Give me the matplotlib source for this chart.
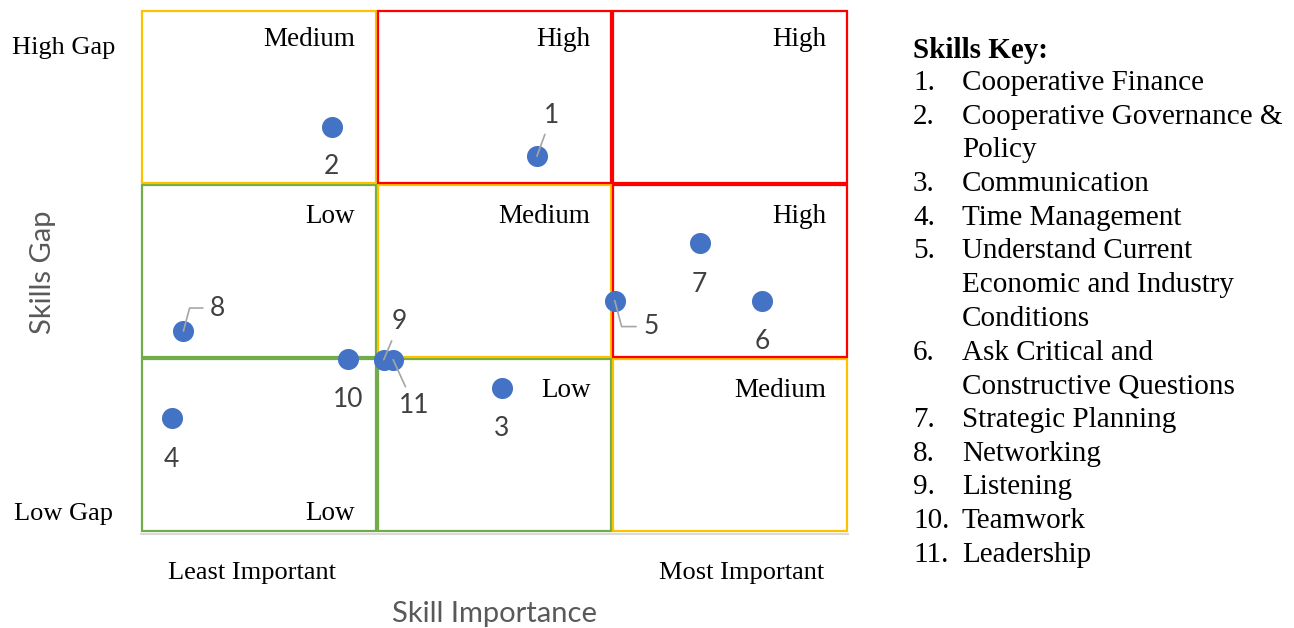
import matplotlib
matplotlib.use("Agg")
import matplotlib.pyplot as plt
from matplotlib.patches import Rectangle

# ---- data ----
skill_ids = ["1", "2", "3", "4", "5", "6", "7", "8", "9", "10", "11"]
importance = [1.68, 0.81, 1.53, 0.13, 2.01, 2.635, 2.37, 0.18, 1.03, 0.88, 1.07]
gap = [2.16, 2.33, 0.83, 0.655, 1.33, 1.33, 1.66, 1.155, 0.99, 0.995, 0.99]

cell_levels = [  # rows from bottom (low gap) to top (high gap), cols least->most important
    ["Low", "Low", "Medium"],
    ["Low", "Medium", "High"],
    ["Medium", "High", "High"],
]
key_items = [
    "Cooperative Finance",
    "Cooperative Governance &\nPolicy",
    "Communication",
    "Time Management",
    "Understand Current\nEconomic and Industry\nConditions",
    "Ask Critical and\nConstructive Questions",
    "Strategic Planning",
    "Networking",
    "Listening",
    "Teamwork",
    "Leadership",
]
x_ticks = ["Least Important", "Most Important"]
y_ticks = ["Low Gap", "High Gap"]

# ---- style ----
W, H = 1294, 628
DPI = 100
level_colors = {"Low": "#70AD47", "Medium": "#FFC000", "High": "#FF0000"}
point_color = "#4472C4"
label_color = "#404040"
leader_color = "#A6A6A6"
serif = ["Liberation Serif", "DejaVu Serif"]
sans = ["Lato", "DejaVu Sans"]
PX = 72.0 / DPI  # px -> points
TY = 3  # vertical text nudge in px

fig = plt.figure(figsize=(W / DPI, H / DPI), dpi=DPI)
ax_l, ax_r, ax_t, ax_b = 141, 848, 10, 532
ax = fig.add_axes([ax_l / W, (H - ax_b) / H, (ax_r - ax_l) / W, (ax_b - ax_t) / H])
ax.set_xlim(0, 3)
ax.set_ylim(0, 3)
for s in ["top", "right", "left"]:
    ax.spines[s].set_visible(False)
ax.spines["bottom"].set_color("#D9D9D9")
ax.spines["bottom"].set_linewidth(1.5)
ax.spines["bottom"].set_position(("outward", 1.5))
ax.set_xticks([])
ax.set_yticks([])

# grid cells
for r in range(3):
    for c in range(3):
        lvl = cell_levels[r][c]
        ax.add_patch(Rectangle((c + 0.004, r + 0.007), 0.992, 0.986, fill=False,
                               edgecolor=level_colors[lvl], lw=1.6, zorder=1,
                               clip_on=False))

# cell labels
row_h_px = (ax_b - ax_t) / 3.0
for r in range(3):
    for c in range(3):
        yy = r + 0.833
        if r == 2:
            yy = r + 0.845
        if r == 0 and c == 0:
            yy = 0.126
        yy -= TY / row_h_px
        ax.text(c + 1 - 0.092, yy, cell_levels[r][c], ha="right", va="center",
                fontsize=19.5, family=serif, color="black", zorder=3)

# points
ax.scatter(importance, gap, s=230, color=point_color, zorder=4, linewidths=0,
           clip_on=False)

# data labels (offset in px; positive dy = down)
offsets = {
    "1": (15, -43), "2": (0, 38), "3": (0, 39), "4": (0, 39), "5": (36, 24),
    "6": (0, 39), "7": (0, 39), "8": (34, -25), "9": (16, -40), "10": (0, 39),
    "11": (21, 44),
}
leaders = {"1", "5", "8", "9", "11"}
for sid, xv, yv in zip(skill_ids, importance, gap):
    dx, dy = offsets[sid]
    kw = {}
    if sid in leaders:
        if sid == "8":
            cs = "angle,angleA=0,angleB=75,rad=0"
        elif sid == "5":
            cs = "angle,angleA=0,angleB=-75,rad=0"
        else:
            cs = "arc3"
        kw["arrowprops"] = dict(arrowstyle="-", color=leader_color, lw=1.2,
                                shrinkA=3, shrinkB=0, connectionstyle=cs)
    ax.annotate(sid, xy=(xv, yv), xytext=(dx * PX, -(dy + 2) * PX),
                textcoords="offset points", ha="center", va="center", fontsize=19,
                family=sans, color=label_color, zorder=5, **kw)


def ftext(x, y, s, **kw):
    return fig.text(x / W, 1 - (y + TY) / H, s, **kw)


# axis end labels
ftext(252, 570, x_ticks[0], ha="center", va="center", fontsize=19, family=serif)
ftext(742, 570, x_ticks[1], ha="center", va="center", fontsize=19, family=serif)
ftext(64, 511, y_ticks[0], ha="center", va="center", fontsize=19, family=serif)
ftext(64, 45, y_ticks[1], ha="center", va="center", fontsize=19, family=serif)

# axis titles
ftext(494, 611, "Skill Importance", ha="center", va="center", fontsize=21,
      family=sans, color="#595959")
fig.text(43 / W, 1 - 272 / H, "Skills Gap", ha="center", va="center", rotation=90,
         fontsize=21, family=sans, color="#595959")

# key
line_h = 33.7
ftext(913, 47, "Skills Key:", ha="left", va="center", fontsize=21, family=serif,
      weight="bold")
y = 80
for i, item in enumerate(key_items, start=1):
    ftext(913, y, f"{i}.", ha="left", va="center", fontsize=21, family=serif)
    for ln in item.split("\n"):
        ftext(962, y, ln, ha="left", va="center", fontsize=21, family=serif)
        y += line_h

fig.savefig("out.png", dpi=DPI)
